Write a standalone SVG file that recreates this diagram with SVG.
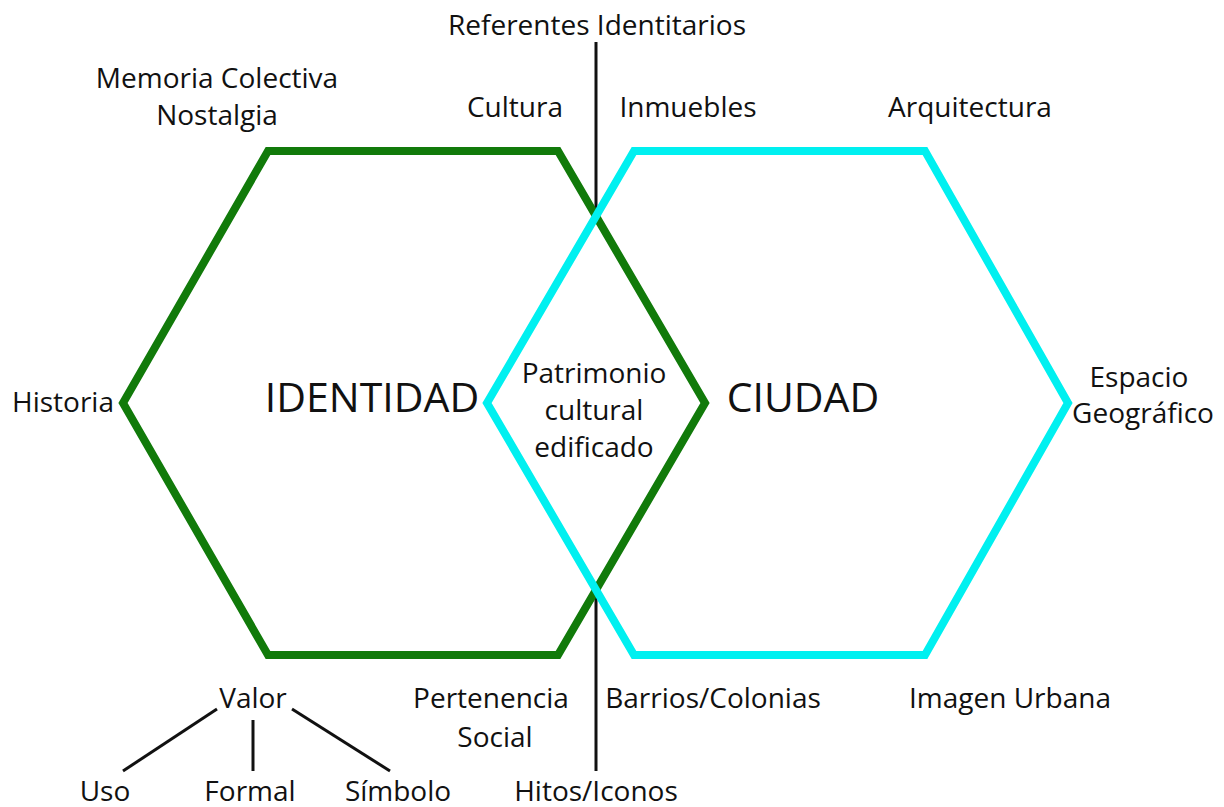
<svg xmlns="http://www.w3.org/2000/svg" width="1224" height="807" viewBox="0 0 1224 807">
<style>
text{font-family:"Open Sans","Liberation Sans",sans-serif;font-size:28px;fill:#111;text-anchor:middle}
.big{font-size:41px}
.ln{stroke:#111;stroke-width:3;fill:none}
.hex{fill:none;stroke-width:8;stroke-linejoin:miter}
</style>
<rect width="1224" height="807" fill="#fff"/>
<g id="connectors">
<line class="ln" x1="596" y1="42" x2="596" y2="216"/>
<line class="ln" x1="596" y1="590" x2="596" y2="771"/>
<line class="ln" x1="217" y1="709" x2="123" y2="771"/>
<line class="ln" x1="253" y1="720" x2="253" y2="771"/>
<line class="ln" x1="292" y1="709" x2="390" y2="771"/>
</g>
<g id="identidad">
<polygon class="hex" stroke="#117a0a" points="268,151 558,151 705,403 558,655 268,655 123,403"/>
<text class="big" x="372" y="412">IDENTIDAD</text>
</g>
<g id="ciudad">
<polygon class="hex" stroke="#00f0f0" points="634,151 925,151 1068,403 925,655 634,655 487,403"/>
<text class="big" x="803" y="412">CIUDAD</text>
</g>
<g id="patrimonio">
<text x="594" y="383">Patrimonio</text>
<text x="594" y="420">cultural</text>
<text x="594" y="457">edificado</text>
</g>
<g id="labels">
<text x="597" y="35">Referentes Identitarios</text>
<text x="217" y="88">Memoria Colectiva</text>
<text x="217" y="125">Nostalgia</text>
<text x="515" y="117">Cultura</text>
<text x="688" y="117">Inmuebles</text>
<text x="970" y="117">Arquitectura</text>
<text x="63" y="412">Historia</text>
<text x="1139" y="387">Espacio</text>
<text x="1143" y="423">Geográfico</text>
<text x="253" y="708">Valor</text>
<text x="491" y="708">Pertenencia</text>
<text x="495" y="747">Social</text>
<text x="713" y="708">Barrios/Colonias</text>
<text x="1010" y="708">Imagen Urbana</text>
<text x="105" y="801">Uso</text>
<text x="250" y="801">Formal</text>
<text x="398" y="801">Símbolo</text>
<text x="596" y="801">Hitos/Iconos</text>
</g>
</svg>
